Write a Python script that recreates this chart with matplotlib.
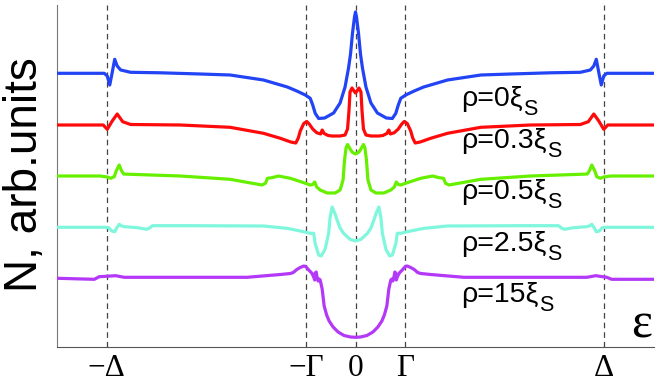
import matplotlib
matplotlib.use("Agg")
import matplotlib.pyplot as plt

plt.rcParams['font.family'] = ['Liberation Sans', 'DejaVu Sans']

# energy positions of the marks (units of Gamma), Delta = 5 Gamma
tick_pos = [-5, -1, 0, 1, 5]
tick_labels = ["\u2212\u0394", "\u2212\u0393", "0", "\u0393", "\u0394"]

# rho = 0 xi_S
eps_blue = [-5.99, -5.05, -4.99, -4.94, -4.90, -4.84, -4.79, -4.72, -4.52, -3.92, -3.12, -2.52, -1.85,
            -1.37, -1.18, -1.01, -0.91, -0.86, -0.81, -0.74, -0.62, -0.44, -0.31, -0.21, -0.14, -0.10,
            -0.06, -0.02, 0.0,
            0.02, 0.06, 0.10, 0.14, 0.21, 0.31, 0.44, 0.62, 0.74, 0.81, 0.86, 0.91, 1.01, 1.18, 1.37,
            1.85, 2.52, 3.12, 3.92, 4.52, 4.72, 4.79, 4.84, 4.90, 4.94, 4.99, 5.05, 5.99]
n_blue = [27.37, 27.37, 27.1, 26.2, 27.2, 28.77, 28.1, 27.7, 27.47, 27.42, 27.3, 27.2, 26.7,
          26.0, 25.6, 25.2, 24.87, 24.2, 23.37, 22.85, 22.9, 23.4, 24.4, 26.0, 27.9, 29.3,
          31.4, 33.0, 33.5,
          33.0, 31.4, 29.3, 27.9, 26.0, 24.4, 23.4, 22.9, 22.85, 23.37, 24.2, 24.87, 25.2, 25.6, 26.0,
          26.7, 27.2, 27.3, 27.42, 27.47, 27.7, 28.1, 28.77, 27.2, 26.2, 27.1, 27.37, 27.37]

# rho = 0.3 xi_S
eps_red = [-5.99, -5.07, -4.99, -4.89, -4.79, -4.68, -4.52, -3.52, -2.52, -1.85, -1.51, -1.30, -1.20,
           -1.15, -1.11, -1.04, -0.98, -0.93, -0.86, -0.78, -0.70, -0.67, -0.63, -0.55, -0.47, -0.31,
           -0.21, -0.16, -0.13, -0.11, -0.07, -0.03, 0.0,
           0.03, 0.07, 0.11, 0.13, 0.16, 0.21, 0.31, 0.47, 0.55, 0.63, 0.67, 0.70, 0.78, 0.86, 0.93,
           0.98, 1.04, 1.11, 1.15, 1.20, 1.30, 1.51, 1.85, 2.52, 3.52, 4.52, 4.68, 4.79, 4.89, 4.99,
           5.07, 5.99]
n_red = [22.2, 22.2, 21.77, 22.6, 23.3, 22.53, 22.25, 22.2, 21.97, 21.37, 20.87, 20.5, 20.4,
         20.9, 21.6, 22.35, 22.55, 22.3, 21.8, 21.43, 21.3, 21.7, 21.35, 21.15, 21.1, 21.1,
         21.2, 21.8, 23.7, 25.5, 25.9, 25.6, 25.4,
         25.6, 25.9, 25.5, 23.7, 21.8, 21.2, 21.1, 21.1, 21.15, 21.35, 21.7, 21.3, 21.43, 21.8, 22.3,
         22.55, 22.35, 21.6, 20.9, 20.4, 20.5, 20.87, 21.37, 21.97, 22.2, 22.25, 22.53, 23.3, 22.6, 21.77,
         22.2, 22.2]

# rho = 0.5 xi_S
eps_green = [-5.99, -5.13, -4.99, -4.92, -4.85, -4.81, -4.75, -4.70, -4.66, -4.52, -3.52, -2.52, -1.88,
             -1.81, -1.77, -1.68, -1.55, -1.31, -1.04, -0.91, -0.86, -0.82, -0.78, -0.71, -0.57, -0.41,
             -0.31, -0.25, -0.22, -0.19, -0.16, -0.12, -0.07, 0.0,
             0.07, 0.12, 0.16, 0.19, 0.22, 0.25, 0.31, 0.41, 0.57, 0.71, 0.78, 0.82, 0.86, 0.91, 1.04,
             1.31, 1.55, 1.68, 1.77, 1.81, 1.88, 2.52, 3.52, 4.52, 4.66, 4.70, 4.75, 4.81, 4.85, 4.92,
             4.99, 5.13, 5.99]
n_green = [17.1, 17.1, 17.0, 16.87, 17.03, 17.6, 18.2, 17.6, 17.3, 17.27, 17.1, 16.77, 16.2,
           16.37, 16.87, 16.93, 17.1, 16.87, 16.43, 16.2, 16.25, 16.5, 16.0, 15.7, 15.4, 15.4,
           15.7, 16.7, 18.7, 19.9, 20.25, 19.9, 19.5, 19.3,
           19.5, 19.9, 20.25, 19.9, 18.7, 16.7, 15.7, 15.4, 15.4, 15.7, 16.0, 16.5, 16.25, 16.2, 16.43,
           16.87, 17.1, 16.93, 16.87, 16.37, 16.2, 16.77, 17.1, 17.27, 17.3, 17.6, 18.2, 17.6, 17.03, 16.87,
           17.0, 17.1, 17.1]

# rho = 2.5 xi_S
eps_cyan = [-5.99, -5.03, -4.96, -4.90, -4.84, -4.80, -4.75, -4.70, -4.64, -4.38, -4.20, -4.14, -4.08,
            -3.38, -1.85, -1.38, -1.04, -0.91, -0.84, -0.81, -0.74, -0.69, -0.64, -0.61, -0.54, -0.51,
            -0.47, -0.41, -0.37, -0.31, -0.24, -0.11, 0.0,
            0.11, 0.24, 0.31, 0.37, 0.41, 0.47, 0.51, 0.54, 0.61, 0.64, 0.69, 0.74, 0.81, 0.84, 0.91,
            1.04, 1.38, 1.85, 3.38, 4.08, 4.14, 4.20, 4.38, 4.64, 4.70, 4.75, 4.80, 4.84, 4.90, 4.96,
            5.03, 5.99]
n_cyan = [11.97, 11.97, 11.93, 11.6, 11.53, 11.9, 12.27, 12.1, 12.03, 11.93, 11.77, 11.9, 12.13,
          12.13, 12.1, 11.87, 11.53, 11.37, 11.37, 10.33, 9.2, 9.1, 9.5, 9.8, 11.37, 13.0,
          14.0, 13.3, 12.7, 11.9, 11.37, 10.77, 10.6,
          10.77, 11.37, 11.9, 12.7, 13.3, 14.0, 13.0, 11.37, 9.8, 9.5, 9.1, 9.2, 10.33, 11.37, 11.37,
          11.53, 11.87, 12.1, 12.13, 12.13, 11.9, 11.77, 11.93, 12.03, 12.1, 12.27, 11.9, 11.53, 11.6, 11.93,
          11.97, 11.97]

# rho = 15 xi_S
eps_purple = [-5.99, -5.25, -5.15, -4.82, -4.65, -3.38, -2.18, -1.51, -1.31, -1.25, -1.18, -1.11, -1.04,
              -1.00, -0.94, -0.88, -0.84, -0.82, -0.81, -0.79, -0.77, -0.75, -0.73, -0.71, -0.67, -0.63,
              -0.58, -0.53, -0.45, -0.35, -0.23, -0.10, 0.0,
              0.10, 0.23, 0.35, 0.45, 0.53, 0.58, 0.63, 0.67, 0.71, 0.73, 0.75, 0.77, 0.79, 0.81, 0.82,
              0.84, 0.88, 0.94, 1.00, 1.04, 1.11, 1.18, 1.25, 1.31, 1.51, 2.18, 3.38, 4.65, 4.83, 5.05,
              5.15, 5.99]
n_purple = [6.87, 6.77, 7.03, 7.13, 6.97, 6.97, 6.97, 7.25, 7.35, 7.45, 7.75, 7.95, 8.1,
            8.05, 7.7, 7.4, 7.0, 6.7, 7.4, 7.5, 6.9, 6.6, 6.8, 6.7, 5.8, 4.1,
            3.2, 2.6, 2.0, 1.5, 1.15, 1.0, 0.97,
            1.0, 1.15, 1.5, 2.0, 2.6, 3.2, 4.1, 5.8, 6.7, 6.8, 6.6, 6.9, 7.5, 7.4, 6.7,
            7.0, 7.4, 7.7, 8.05, 8.1, 7.95, 7.75, 7.45, 7.35, 7.25, 6.97, 6.97, 6.97, 7.13, 6.97,
            6.77, 6.77]

curve_labels = ["ρ=0ξ", "ρ=0.3ξ", "ρ=0.5ξ", "ρ=2.5ξ", "ρ=15ξ"]
label_sub = "S"
label_n = [24.1, 19.9, 14.8, 9.6, 4.5]

colors = ["#2244f5", "#ff0a0a", "#66f000", "#7ff7dd", "#b338f7"]

fig = plt.figure(figsize=(6.64, 3.88), dpi=100)
ax = fig.add_axes([57 / 664, 41 / 388, 597 / 664, 342 / 388])

for p in tick_pos:
    ax.axvline(p, color="#444444", lw=0.9, dashes=(4.5, 3.2), zorder=1)

curves = [(eps_blue, n_blue), (eps_red, n_red), (eps_green, n_green),
          (eps_cyan, n_cyan), (eps_purple, n_purple)]
for (x, y), c in zip(curves, colors):
    ax.plot(x, y, color=c, lw=2.3, solid_joinstyle="round", solid_capstyle="round", zorder=3)

for lab, yy in zip(curve_labels, label_n):
    t = ax.text(2.12, yy, lab, fontsize=20.5, ha="left", va="baseline", zorder=4)
    ax.annotate(label_sub, xy=(1, 0), xycoords=t, xytext=(0.5, -2.5), textcoords="offset points",
                fontsize=15.5, ha="left", va="baseline", zorder=4)

ax.text(5.97, 0.9, "\u03b5", fontsize=36, family="Liberation Serif", ha="right", va="baseline")

ax.set_xlim(-6, 6)
ax.set_ylim(0, 34.2)
ax.set_xticks(tick_pos)
ax.set_xticklabels(tick_labels, family="Liberation Serif", fontsize=22.5)
ax.set_yticks([])
ax.tick_params(axis="x", direction="in", length=0, pad=5)
for s in ["top", "right"]:
    ax.spines[s].set_visible(False)
ax.spines["left"].set_color("#777777")
ax.spines["bottom"].set_color("#555555")

fig.text(25 / 664, 1 - 175 / 388, "N, arb.units", rotation=90, fontsize=33,
         ha="center", va="center")

fig.savefig("out.png", dpi=100)
